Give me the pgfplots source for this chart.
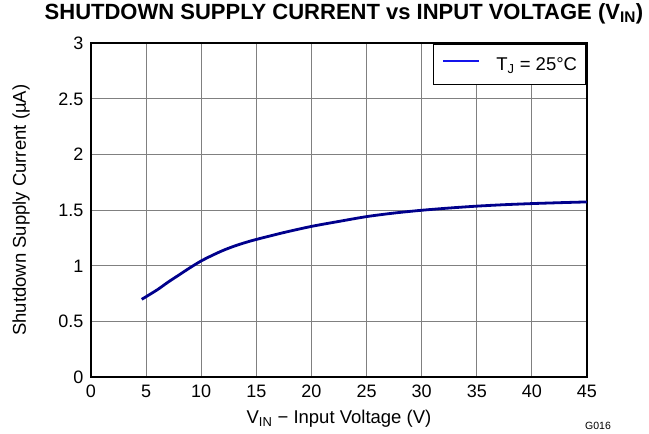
\documentclass[border=0pt]{standalone}
\usepackage{pgfplots}
\pgfplotsset{compat=1.18}
\usepackage{fontspec}
\setmainfont{Liberation Sans}
\definecolor{curve}{RGB}{0,0,140}
\definecolor{legblue}{RGB}{20,20,235}
\begin{document}
\begin{tikzpicture}[x=1pt,y=1pt]
\path (-91,-56) rectangle (558,377);
\begin{axis}[
  at={(0,0)}, anchor=south west,
  scale only axis, width=496pt, height=334pt,
  xmin=0, xmax=45, ymin=0, ymax=3,
  xtick={0,5,...,45}, ytick={0,0.5,...,3},
  yticklabels={0,0.5,1,1.5,2,2.5,3},
  /pgf/number format/assume math mode=true,
  tick label style={font=\fontsize{18}{21}\selectfont},
  xticklabel style={anchor=north, text height=13pt, text depth=0pt, yshift=-4pt},
  yticklabel style={xshift=-4pt},
  tick style={draw=none},
  grid=major,
  major grid style={draw=black!50, line width=0.9pt},
  axis line style={line width=1.8pt},
  xlabel={V\textsubscript{IN} − Input Voltage (V)},
  ylabel={Shutdown Supply Current (µA)},
  label style={font=\fontsize{18.5}{22}\selectfont},
  xlabel style={at={(rel axis cs:0.5,0)}, anchor=base, yshift=-46pt},
  ylabel style={at={(rel axis cs:0,0.5)}, anchor=center, yshift=70pt},
  title={\textbf{SHUTDOWN SUPPLY CURRENT vs INPUT VOLTAGE (V\textsubscript{IN})}},
  title style={font=\fontsize{22}{26}\selectfont, at={(rel axis cs:0.5,1)}, anchor=base, yshift=18pt, xshift=5pt},
  legend style={at={(rel axis cs:1,1)}, anchor=north east, draw=black, line width=1.8pt,
    font=\fontsize{18.5}{22}\selectfont, inner xsep=9pt, inner ysep=13pt,
    nodes={inner sep=0pt}},
  legend cell align=left,
  legend image code/.code={\draw[draw=legblue, line width=2pt] (0pt,0.3em) -- (36pt,0.3em);},
]
\addplot[draw=curve, line width=2.8pt, smooth] coordinates {
(4.6,0.70) (6,0.785) (7,0.855) (8,0.92) (9,0.985) (10,1.045) (11,1.095)
(12,1.14) (13,1.178) (14,1.21) (15,1.238) (17.5,1.30) (20,1.355)
(22.5,1.40) (25,1.443) (27.5,1.475) (30,1.50) (32.5,1.52) (35,1.537)
(37.5,1.55) (40,1.56) (42.5,1.568) (45,1.575)
};
\addlegendentry{\hspace{16pt}T\textsubscript{J} = 25°C}
\end{axis}
\node[font=\fontsize{10.5}{12}\selectfont] at (507,-49) {G016};
\end{tikzpicture}
\end{document}
